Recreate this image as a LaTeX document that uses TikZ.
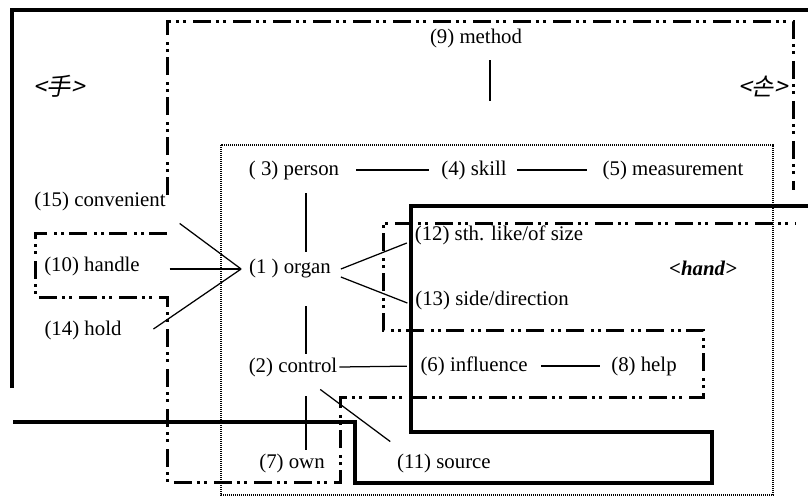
\documentclass[tikz,border=0pt]{standalone}
\usepackage{fontspec}
\setmainfont{Liberation Serif}
\newfontfamily\zhfont[FakeSlant=0.2]{Noto Sans CJK SC}
\newfontfamily\kofont[FakeSlant=0.2]{Noto Sans CJK KR}

\tikzset{
  word/.style={inner sep=1pt,font=\fontsize{12.5}{15}\selectfont},
  cjkword/.style={inner sep=1pt,font=\fontsize{14.5}{16}\selectfont},
  link/.style={line width=0.75pt},
  heavyline/.style={line width=2.1pt},
  dashdotdot/.style={line width=1.8pt,dash pattern=on 10.8pt off 3pt on 1.8pt off 2.4pt on 1.8pt off 4.2pt},
  dotline/.style={line width=1.2pt,dash pattern=on 0.6pt off 0.6pt}
}

\begin{document}
\begin{tikzpicture}[x=0.6pt,y=-0.6pt]
\useasboundingbox (0,0) rectangle (808,498);

% frames
\draw [heavyline] (12,388) -- (12,10) -- (808,10);
\draw [dashdotdot] (167,195) -- (167,21) -- (793,21) -- (793,190);
\draw [dashdotdot] (167,233) -- (35,233) -- (35,297) -- (167,297) -- (167,482) -- (340,482) -- (340,397) -- (703,397) -- (703,330) -- (383,330) -- (383,223) -- (795,223);
\draw [dotline] (221,145) rectangle (773,495);
\draw [heavyline] (808,206) -- (411,206) -- (411,432) -- (712,432) -- (712,483) -- (355,483) -- (355,422) -- (13,422);

% words
\node [word] (method) at (476,38) {(9) method};
\node [cjkword] (zh) at (59,86) {\zhfont <手>};
\node [cjkword] (ko) at (763,86) {\kofont <손>};
\node [word] (person) at (294,170) {( 3) person};
\node [word] (skill) at (474,170) {(4) skill};
\node [word] (measure) at (673,170) {(5) measurement};
\node [word] (organ) at (290,269) {(1 ) organ};
\node [word] (control) at (293,367) {(2) control};
\node [word] (influence) at (474,366) {(6) influence};
\node [word] (help) at (644,366) {(8) help};
\node [word] (own) at (292,463) {(7) own};
\node [word] (source) at (444,463) {(11) source};
\node [word] (size) at (499,235) {(12) sth. like/of size};
\node [word] (side) at (492,300) {(13) side/direction};
\node [word] (en) at (703,268) {\textbf{\textit{<hand>}}};
\node [word] (conv) at (100,201) {(15) convenient};
\node [word] (handle) at (92,266) {(10) handle};
\node [word] (hold) at (83,330) {(14) hold};

\coordinate (axis) at (306,0);
\coordinate (methodend) at (490,101);
\coordinate (organin) at ([shift={(-6,0)}]organ.west);

% links
\draw [link] ([shift={(14,11)}]method.south) -- (methodend);
\draw [link,shorten <=9pt,shorten >=6pt] (person) -- (skill);
\draw [link,shorten <=5pt,shorten >=8.4pt] (skill) -- (measure);
\draw [link,shorten <=7pt,shorten >=3.6pt] (person.south -| axis) -- (organ.north -| axis);
\draw [link,shorten <=15.6pt,shorten >=1pt] (organ.south -| axis) -- (control.north -| axis);
\draw [link,shorten <=10.8pt,shorten >=1pt] (control.south -| axis) -- (own.north -| axis);
\draw [link,shorten >=7pt] (control.east) -- (influence.west);
\draw [link,shorten <=7pt,shorten >=5.4pt] (influence.east) -- (help.west);
\draw [link] ([shift={(-19,11)}]control.south east) -- ([shift={(-5,-10)}]source.north west);
\draw [link] ([shift={(12,11)}]conv.south east) -- (organin);
\draw [link] ([shift={(28,3)}]handle.east) -- (organin);
\draw [link] ([shift={(30,-1)}]hold.east) -- (organin);
\draw [link] ([shift={(8,0)}]organ.east) -- ([shift={(-6,8)}]size.west);
\draw [link] ([shift={(8,8)}]organ.east) -- ([shift={(-6,3)}]side.west);

\end{tikzpicture}
\end{document}
